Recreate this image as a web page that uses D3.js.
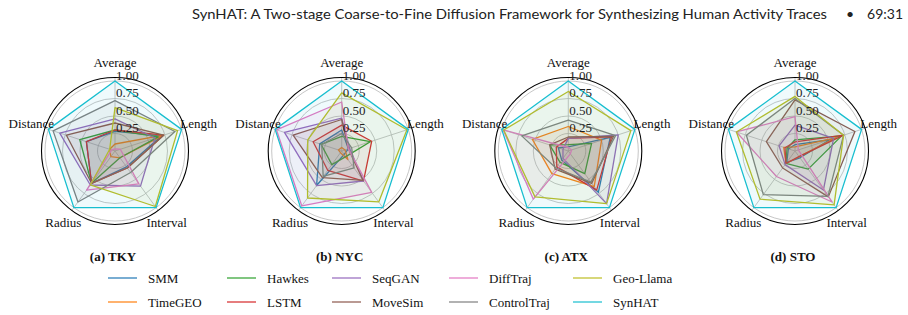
<!DOCTYPE html>
<html><head><meta charset="utf-8">
<script src="https://cdn.jsdelivr.net/npm/d3@7"></script>
<style>body{margin:0;background:#fff}svg{display:block}</style>
</head><body>
<svg id="c" width="908" height="315"></svg>
<script>
// ---- data ----
const categories = ["Average", "Length", "Interval", "Radius", "Distance"];
const series = ["SMM", "TimeGEO", "Hawkes", "LSTM", "SeqGAN", "MoveSim", "DiffTraj", "ControlTraj", "Geo-Llama", "SynHAT"];
const colors = ["#1f77b4", "#ff7f0e", "#2ca02c", "#d62728", "#9467bd", "#8c564b", "#e377c2", "#7f7f7f", "#bcbd22", "#17becf"];
const panels = ["(a) TKY", "(b) NYC", "(c) ATX", "(d) STO"];
const tickValues = [0.25, 0.5, 0.75, 1.0];
const tickLabels = ["0.25", "0.50", "0.75", "1.00"];
const titleText = "SynHAT: A Two-stage Coarse-to-Fine Diffusion Framework for Synthesizing Human Activity Traces";
const pageNo = "69:31";

// rows follow `series`, columns follow `categories`
const tky = [
  [0.28, 0.70, 0.28, 0.57, 0.43],
  [0.10, 0.73, 0.12, 0.10, 0.08],
  [0.30, 0.65, 0.12, 0.57, 0.53],
  [0.30, 0.73, 0.30, 0.57, 0.43],
  [0.46, 0.60, 0.62, 0.60, 0.83],
  [0.40, 0.73, 0.30, 0.57, 0.73],
  [0.03, 0.08, 0.58, 0.69, 0.05],
  [0.72, 0.90, 0.38, 0.90, 0.93],
  [0.62, 0.94, 0.98, 0.60, 0.08],
  [1.00, 1.00, 1.00, 1.00, 1.00]
];
const nyc = [
  [0.30, 0.10, 0.06, 0.61, 0.33],
  [0.05, 0.05, 0.15, 0.03, 0.05],
  [0.21, 0.43, 0.10, 0.24, 0.31],
  [0.37, 0.45, 0.53, 0.34, 0.43],
  [0.47, 0.12, 0.53, 0.61, 0.86],
  [0.45, 0.10, 0.52, 0.47, 0.73],
  [0.70, 0.10, 0.73, 0.97, 0.98],
  [0.25, 0.15, 0.30, 0.45, 0.30],
  [0.83, 0.98, 0.90, 0.83, 0.51],
  [1.00, 1.00, 1.00, 1.00, 1.00]
];
const atx = [
  [0.06, 0.63, 0.73, 0.16, 0.15],
  [0.35, 0.50, 0.63, 0.40, 0.54],
  [0.09, 0.35, 0.40, 0.20, 0.28],
  [0.18, 0.65, 0.69, 0.28, 0.18],
  [0.18, 0.75, 0.93, 0.13, 0.08],
  [0.20, 0.68, 0.57, 0.32, 0.28],
  [0.05, 0.05, 0.05, 0.85, 0.98],
  [0.44, 0.71, 0.55, 0.30, 0.70],
  [0.85, 0.94, 0.93, 0.81, 0.97],
  [1.00, 1.00, 1.00, 1.00, 1.00]
];
const sto = [
  [0.09, 0.53, 0.12, 0.20, 0.10],
  [0.06, 0.62, 0.10, 0.22, 0.17],
  [0.16, 0.70, 0.32, 0.22, 0.12],
  [0.13, 0.73, 0.10, 0.22, 0.15],
  [0.37, 0.58, 0.69, 0.24, 0.24],
  [0.73, 0.90, 0.81, 0.30, 0.43],
  [0.49, 0.05, 0.90, 0.45, 0.88],
  [0.75, 0.73, 0.80, 0.77, 0.73],
  [0.78, 0.73, 0.95, 0.85, 0.88],
  [1.00, 1.00, 1.00, 1.00, 1.00]
];
const panelData = [tky, nyc, atx, sto];

// ---- drawing ----
const svg = d3.select("#c");
const serif = "'Liberation Serif','Times New Roman',serif";
const centersX = [115, 341.7, 568.3, 795];
const cy = 151;
const r = d3.scaleLinear().domain([0, 1.05]).range([0, 73.5]);
const ang = d3.scalePoint().domain(categories).range([0, 2 * Math.PI * 4 / 5]);

panelData.forEach((data, p) => {
  const g = svg.append("g").attr("transform", `translate(${centersX[p]},${cy})`);
  g.selectAll("circle.grid").data(tickValues).join("circle")
    .attr("r", d => r(d)).attr("fill", "none").attr("stroke", "#b8b8b8").attr("stroke-width", 0.8);
  g.selectAll("line.spoke").data(categories).join("line")
    .attr("x1", 0).attr("y1", 0)
    .attr("x2", d => r(1.05) * Math.sin(ang(d)))
    .attr("y2", d => -r(1.05) * Math.cos(ang(d)))
    .attr("stroke", "#b8b8b8").attr("stroke-width", 0.8);
  const line = d3.lineRadial()
    .angle((d, i) => ang(categories[i]))
    .radius(d => r(d))
    .curve(d3.curveLinearClosed);
  data.forEach((vals, s) => {
    g.append("path").attr("d", line(vals))
      .attr("fill", colors[s]).attr("fill-opacity", 0.07)
      .attr("stroke", colors[s]).attr("stroke-width", 1.3).attr("stroke-linejoin", "round");
  });
  g.append("circle").attr("r", r(1.05)).attr("fill", "none").attr("stroke", "#000").attr("stroke-width", 1.1);
  g.selectAll("text.tick").data(tickValues).join("text")
    .attr("x", 1).attr("y", d => -r(d) - 6)
    .attr("dominant-baseline", "central")
    .attr("font-family", serif).attr("font-size", 13).attr("fill", "#222")
    .text((d, i) => tickLabels[i]);
  g.selectAll("text.cat").data(categories).join("text")
    .attr("x", d => (d === "Average" ? 89 : 88) * Math.sin(ang(d)))
    .attr("y", d => -(d === "Average" ? 89 : 88) * Math.cos(ang(d)))
    .attr("text-anchor", "middle").attr("dominant-baseline", "central")
    .attr("font-family", serif).attr("font-size", 13).attr("fill", "#111")
    .text(d => d);
  svg.append("text").attr("x", centersX[p] - 2).attr("y", 256)
    .attr("text-anchor", "middle").attr("dominant-baseline", "central")
    .attr("font-family", serif).attr("font-size", 13).attr("font-weight", "bold").attr("fill", "#111")
    .text(panels[p]);
});

// legend (column-major, 2 rows)
const legX = [108, 227, 332, 449, 573, 697];
const legY = [278, 302];
series.forEach((name, i) => {
  const col = Math.floor(i / 2), row = i % 2;
  const x = legX[col], y = legY[row];
  svg.append("line").attr("x1", x).attr("x2", x + 29).attr("y1", y).attr("y2", y)
    .attr("stroke", colors[i]).attr("stroke-width", 2).attr("stroke-opacity", 0.6);
  svg.append("text").attr("x", x + 40).attr("y", y).attr("dominant-baseline", "central")
    .attr("font-family", serif).attr("font-size", 13).attr("fill", "#111").text(name);
});

// header
svg.append("text").attr("x", 192).attr("y", 19)
  .attr("font-family", "Lato, 'Open Sans', sans-serif").attr("font-size", 14).attr("fill", "#222")
  .attr("textLength", 635).attr("lengthAdjust", "spacingAndGlyphs")
  .text(titleText);
svg.append("text").attr("x", 850).attr("y", 19).attr("text-anchor", "middle")
  .attr("font-family", "Lato, sans-serif").attr("font-size", 14).attr("fill", "#222").text("•");
svg.append("text").attr("x", 903).attr("y", 19).attr("text-anchor", "end")
  .attr("font-family", "Lato, sans-serif").attr("font-size", 14).attr("fill", "#222").text("69:31");
</script>
</body></html>
